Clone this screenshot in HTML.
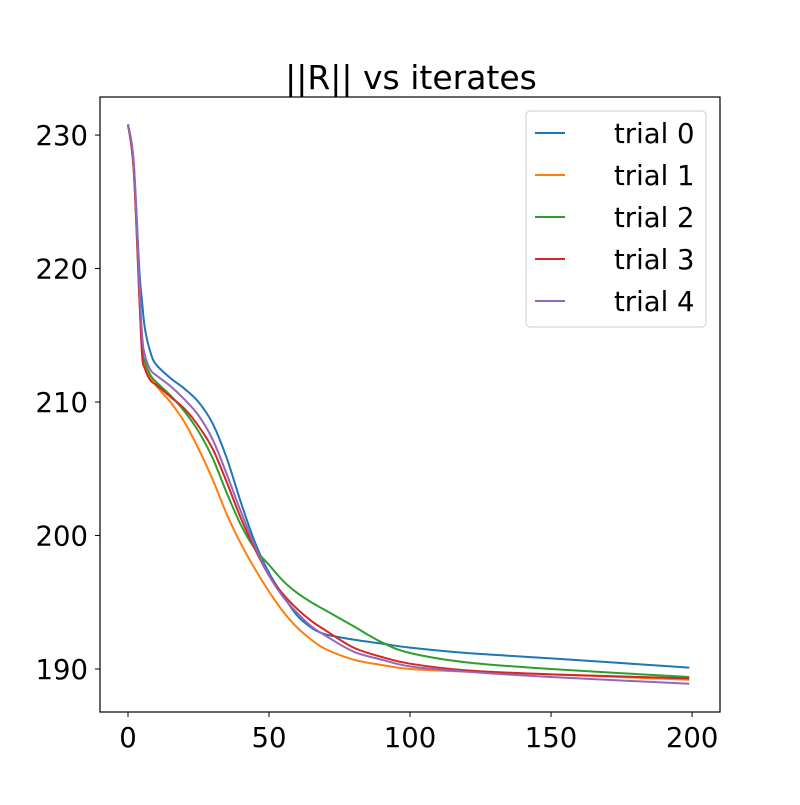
<!DOCTYPE html>
<html><head><meta charset="utf-8"><style>
body{margin:0;background:#fff;}
svg text{font-family:"DejaVu Sans","Liberation Sans",sans-serif;fill:#000;}
</style></head><body>
<svg id="chart" width="800" height="800" viewBox="0 0 800 800" xmlns="http://www.w3.org/2000/svg">
<rect width="800" height="800" fill="#fff"/>
<text x="411" y="89" font-size="33" text-anchor="middle">||R|| vs iterates</text>
<g id="plot"></g>
<rect x="100" y="97" width="620" height="615" fill="none" stroke="#000" stroke-width="1.2"/>
<g id="axes"></g>
<g id="legend"></g>
</svg>
<script>
const xs0 = [0,2,4,5,6,8,10,15,20,25,30,35,40,45,50,55,60,65,70,80,90,100,120,150,199];
const trial0 = [230.8,228,220,217.5,215.5,213.7,212.8,211.8,211.0,210.0,208.4,205.8,202.5,199.5,197.2,195.5,194.0,193.1,192.6,192.2,191.9,191.6,191.2,190.8,190.1];
const trial1 = [230.8,227.5,219,214,212.6,211.8,211.2,210.0,208.5,206.5,204.2,201.6,199.4,197.5,195.8,194.3,193.1,192.2,191.5,190.7,190.3,190.0,189.8,189.6,189.2];
const trial2 = [230.8,227.5,218,214,213,212,211.5,210.5,209.3,207.8,205.8,203.2,200.8,199.0,197.8,196.6,195.7,195.0,194.4,193.2,192.0,191.2,190.5,190.0,189.4];
const trial3 = [230.8,227.5,218,213.5,212.5,211.6,211.3,210.4,209.5,208.2,206.5,204.0,201.3,199.0,197.0,195.6,194.5,193.6,192.9,191.6,190.9,190.4,189.9,189.6,189.3];
const trial4 = [230.8,228,219,215,213.5,212.4,212.0,211.2,210.2,209.0,207.2,204.6,201.8,199.2,197.0,195.4,194.2,193.2,192.5,191.3,190.7,190.2,189.8,189.4,188.9];
const seriesNames = ["trial 0","trial 1","trial 2","trial 3","trial 4"];
const seriesColors = ["#1f77b4","#ff7f0e","#2ca02c","#d62728","#9467bd"];
const xTicks = [0,50,100,150,200];
const yTicks = [190,200,210,220,230];

const NS="http://www.w3.org/2000/svg";
const X0=100,X1=720,Y0=97,Y1=712;
const xMin=-9.93,xMax=209.9,yMin=186.78,yMax=232.85;
const sx=v=>X0+(v-xMin)/(xMax-xMin)*(X1-X0);
const sy=v=>Y1-(v-yMin)/(yMax-yMin)*(Y1-Y0);
function mk(tag,attrs,parent){const e=document.createElementNS(NS,tag);for(const k in attrs)e.setAttribute(k,attrs[k]);parent.appendChild(e);return e;}

const plot=document.getElementById('plot');
const all=[trial0,trial1,trial2,trial3,trial4];
all.forEach((ys,i)=>{
  const p=xs0.map((x,j)=>[sx(x),sy(ys[j])]);
  let d=`M${p[0][0]},${p[0][1]}`;
  for(let j=0;j<p.length-1;j++){
    const a=p[Math.max(0,j-1)],b=p[j],c=p[j+1],e=p[Math.min(p.length-1,j+2)];
    const c1=[b[0]+(c[0]-a[0])/6,b[1]+(c[1]-a[1])/6];
    const c2=[c[0]-(e[0]-b[0])/6,c[1]-(e[1]-b[1])/6];
    d+=` C${c1[0]},${c1[1]} ${c2[0]},${c2[1]} ${c[0]},${c[1]}`;
  }
  const path=mk('path',{d:d,fill:'none',stroke:seriesColors[i],'stroke-width':2},plot);
  
  
});

const axes=document.getElementById('axes');
xTicks.forEach(t=>{
  const x=sx(t);
  const l=mk('line',{x1:x,x2:x,y1:Y1,y2:Y1+5,stroke:'#000','stroke-width':1},axes);
  
  
  const tx=mk('text',{x:x,y:Y1+35,'font-size':27.5,'text-anchor':'middle'},axes);
  tx.textContent=t;
  
  
});
yTicks.forEach(t=>{
  const y=sy(t);
  const l=mk('line',{x1:X0-5,x2:X0,y1:y,y2:y,stroke:'#000','stroke-width':1},axes);
  
  
  const tx=mk('text',{x:X0-12,y:y+10,'font-size':27.5,'text-anchor':'end'},axes);
  tx.textContent=t;
  
  
});

const lg=document.getElementById('legend');
const box=mk('rect',{x:526,y:111,width:180,height:216,rx:4,fill:'#fff','fill-opacity':0.8,stroke:'#ccc'},lg);


seriesNames.forEach((n,i)=>{
  const y=133+i*42;
  const g=mk('g',{},lg);
  
  
  mk('line',{x1:535,x2:565,y1:y,y2:y,stroke:seriesColors[i],'stroke-width':2},g);
  const t=mk('text',{x:614,y:y+10,'font-size':27.5},g);
  t.textContent=n;
});
</script>
</body></html>
